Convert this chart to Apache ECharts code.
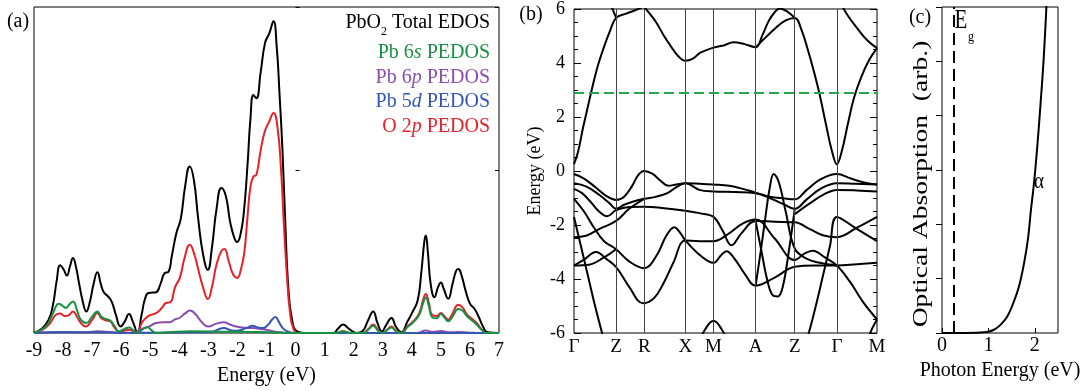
<!DOCTYPE html>
<html><head><meta charset="utf-8">
<script src="https://cdn.jsdelivr.net/npm/echarts@6/dist/echarts.min.js"></script>
<style>html,body{margin:0;padding:0;background:#fff}#c{width:1088px;height:391px}</style>
</head><body><div id="c"></div>
<script>
const F = 'Liberation Serif';

// ---------- Panel (a): density of states ----------
const dosTicks = [-9,-8,-7,-6,-5,-4,-3,-2,-1,0,1,2,3,4,5,6,7];
const totalEDOS = [[-9,0],[-8.75,0.12],[-8.5,0.4],[-8.35,0.85],[-8.22,1.6],[-8.1,2.08],[-7.98,1.95],[-7.87,1.76],[-7.76,2.05],[-7.66,2.3],[-7.55,2.0],[-7.45,1.53],[-7.33,1.0],[-7.2,0.66],[-7.08,0.95],[-6.95,1.5],[-6.82,1.86],[-6.7,1.5],[-6.6,1.25],[-6.45,1.12],[-6.32,0.95],[-6.18,0.55],[-6.02,0.2],[-5.88,0.35],[-5.73,0.58],[-5.6,0.35],[-5.44,0.02],[-5.3,0.55],[-5.18,1.05],[-5.06,1.23],[-4.92,1.24],[-4.8,1.25],[-4.65,1.5],[-4.5,1.84],[-4.38,1.87],[-4.25,2.4],[-4.1,3.07],[-3.95,3.5],[-3.8,4.5],[-3.64,5.11],[-3.5,4.7],[-3.35,3.5],[-3.18,2.4],[-3.02,1.94],[-2.88,2.6],[-2.72,3.8],[-2.55,4.45],[-2.4,4.2],[-2.25,3.4],[-2.1,2.9],[-2.01,2.79],[-1.9,3.0],[-1.78,3.7],[-1.65,5.2],[-1.55,6.6],[-1.45,7.3],[-1.35,7.2],[-1.2,8.0],[-1.05,8.9],[-0.9,9.2],[-0.76,9.56],[-0.65,8.8],[-0.55,7.3],[-0.45,5.6],[-0.35,3.3],[-0.25,1.4],[-0.12,0.4],[0.05,0.05],[0.3,0],[1.3,0],[1.45,0.12],[1.63,0.26],[1.85,0.12],[2.1,0],[2.3,0.05],[2.5,0.4],[2.67,0.66],[2.82,0.3],[2.97,0.05],[3.12,0.25],[3.3,0.46],[3.45,0.2],[3.64,0.02],[3.85,0.35],[4.0,0.6],[4.2,1.0],[4.32,1.8],[4.43,2.8],[4.48,2.99],[4.55,2.5],[4.65,1.5],[4.78,1.1],[4.9,1.4],[5.0,1.55],[5.1,1.35],[5.25,1.05],[5.4,1.5],[5.52,1.9],[5.6,1.96],[5.7,1.8],[5.85,1.3],[6.0,0.9],[6.15,0.75],[6.3,0.5],[6.45,0.2],[6.6,0.02],[7,0]];
const o2p = [[-9,0],[-8.7,0.1],[-8.45,0.3],[-8.25,0.56],[-8.1,0.6],[-7.95,0.52],[-7.8,0.55],[-7.66,0.66],[-7.52,0.5],[-7.38,0.3],[-7.22,0.2],[-7.0,0.4],[-6.82,0.61],[-6.68,0.45],[-6.53,0.39],[-6.38,0.36],[-6.22,0.15],[-6.05,0.04],[-5.85,0.08],[-5.72,0.1],[-5.58,0.05],[-5.44,0.0],[-5.3,0.3],[-5.15,0.46],[-5.0,0.55],[-4.8,0.61],[-4.62,0.75],[-4.46,0.92],[-4.3,0.95],[-4.15,1.4],[-3.98,1.7],[-3.82,2.3],[-3.64,2.71],[-3.48,2.4],[-3.32,1.85],[-3.15,1.3],[-3.02,1.04],[-2.88,1.4],[-2.72,2.1],[-2.55,2.52],[-2.45,2.58],[-2.3,2.2],[-2.15,1.8],[-2.01,1.69],[-1.88,1.95],[-1.76,2.5],[-1.65,3.6],[-1.55,4.5],[-1.45,4.8],[-1.35,4.85],[-1.22,5.5],[-1.07,6.15],[-0.9,6.5],[-0.76,6.75],[-0.62,6.3],[-0.5,5.0],[-0.4,3.3],[-0.3,1.8],[-0.2,0.7],[-0.08,0.15],[0.1,0],[1.4,0],[1.63,0.05],[1.9,0],[2.3,0],[2.5,0.12],[2.67,0.26],[2.85,0.08],[3.0,0],[3.15,0.1],[3.3,0.2],[3.45,0.08],[3.64,0],[3.85,0.2],[4.05,0.36],[4.25,0.6],[4.4,1.05],[4.48,1.2],[4.58,0.95],[4.7,0.55],[4.85,0.52],[5.0,0.61],[5.12,0.52],[5.25,0.41],[5.4,0.6],[5.6,0.87],[5.75,0.78],[5.9,0.56],[6.05,0.45],[6.23,0.31],[6.4,0.12],[6.57,0],[7,0]];
const pb6s = [[-9,0],[-8.75,0.1],[-8.54,0.26],[-8.35,0.6],[-8.14,0.9],[-8.0,0.82],[-7.9,0.77],[-7.78,0.88],[-7.66,0.97],[-7.52,0.7],[-7.39,0.41],[-7.2,0.31],[-7.0,0.5],[-6.82,0.66],[-6.68,0.5],[-6.53,0.43],[-6.38,0.38],[-6.22,0.2],[-6.07,0.05],[-5.9,0.12],[-5.72,0.17],[-5.58,0.08],[-5.44,0.0],[-5.25,0.12],[-5.09,0.18],[-4.95,0.08],[-4.8,0.0],[-4.4,0.02],[-3.6,0.05],[-2.5,0.04],[-1.5,0.03],[-0.8,0.02],[0,0],[1.4,0],[1.63,0.05],[1.9,0],[2.35,0],[2.5,0.1],[2.67,0.22],[2.85,0.06],[3.0,0],[3.15,0.09],[3.3,0.17],[3.45,0.06],[3.64,0],[3.85,0.18],[4.05,0.33],[4.25,0.55],[4.4,0.95],[4.48,1.09],[4.58,0.85],[4.7,0.48],[4.85,0.45],[5.0,0.58],[5.12,0.48],[5.25,0.36],[5.4,0.5],[5.6,0.74],[5.75,0.68],[5.9,0.51],[6.05,0.4],[6.23,0.26],[6.4,0.1],[6.55,0],[7,0]];
const pb6p = [[-9,0],[-8,0.02],[-7.2,0.02],[-6.8,0.05],[-6.3,0.02],[-5.6,0.0],[-5.3,0.12],[-5.0,0.22],[-4.8,0.31],[-4.55,0.33],[-4.34,0.33],[-4.15,0.42],[-4.0,0.46],[-3.8,0.6],[-3.63,0.69],[-3.45,0.58],[-3.3,0.41],[-3.12,0.24],[-3.0,0.2],[-2.75,0.28],[-2.47,0.33],[-2.25,0.26],[-2.05,0.2],[-1.75,0.16],[-1.47,0.15],[-1.2,0.12],[-1.01,0.1],[-0.75,0.05],[-0.5,0.02],[-0.2,0],[4.2,0],[4.48,0.08],[4.7,0.03],[5.0,0.06],[5.3,0.02],[5.6,0.03],[6.0,0.01],[6.5,0],[7,0]];
const pb5d = [[-9,0],[-8.5,0.02],[-8,0.03],[-7.5,0.02],[-6.8,0.02],[-6,0.01],[-5.0,0.01],[-3.5,0.02],[-2.9,0.04],[-2.47,0.15],[-2.2,0.08],[-2.0,0.07],[-1.7,0.15],[-1.47,0.22],[-1.3,0.17],[-1.13,0.15],[-0.95,0.25],[-0.8,0.42],[-0.69,0.49],[-0.58,0.35],[-0.44,0.15],[-0.25,0.04],[-0.05,0],[7,0]];

// ---------- Panel (b): band structure ----------
const kPoints = [0, 42, 70, 111, 139, 181, 220, 262, 302];
const kLabels = ['Γ','Z','R','X','M','A','Z','Γ','M'];
const gapLevel = 2.9;
const cb1 = [[0,0.25],[4,0.7],[9,1.6],[13,2.25],[17,2.9],[23,3.8],[29,4.5],[36,5.2],[42,5.67],[52,5.83],[62,5.97],[70,6.1]];
const cb1b = [[36,6.2],[39,5.95],[42,5.67]];
const cb2 = [[68,6.15],[75,5.85],[82,5.5],[89,5.05],[96,4.65],[104,4.25],[111,4.08],[118,4.15],[126,4.38],[139,4.57],[150,4.66],[159,4.77],[170,4.7],[181,4.58],[188,5.05],[194,5.55],[200,5.88],[205,6.02],[212,5.92],[220,5.67]];
const cb3 = [[181,4.58],[191,4.95],[201,5.3],[211,5.58],[220,5.67],[227,5.2],[233,4.5],[239,3.7],[245,2.8],[251,1.75],[257,0.75],[262,0.25],[267,0.75],[273,1.75],[279,2.7],[286,3.45],[294,4.1],[302,4.55]];
const cb4 = [[266,6.2],[273,5.75],[282,5.3],[292,4.85],[302,4.55]];
const v1 = [[0,-0.11],[10,-0.28],[22,-0.62],[32,-0.92],[42,-1.07],[50,-0.95],[58,-0.55],[64,-0.15],[70,0.0],[78,-0.1],[86,-0.35],[94,-0.55],[102,-0.5],[111,-0.45],[125,-0.47],[139,-0.5],[155,-0.55],[170,-0.68],[181,-0.8],[195,-0.95],[210,-1.02],[220,-1.05],[232,-0.7],[246,-0.3],[262,-0.11],[276,-0.28],[290,-0.43],[302,-0.5]];
const v2 = [[0,-0.45],[12,-0.57],[25,-0.88],[35,-1.18],[42,-1.4],[50,-1.25],[60,-1.12],[70,-1.03],[82,-0.95],[93,-0.82],[102,-0.6],[111,-0.45],[125,-0.7],[139,-0.76],[160,-0.78],[181,-0.82],[198,-1.05],[210,-1.25],[220,-1.4],[232,-1.05],[246,-0.65],[262,-0.45],[280,-0.47],[302,-0.5]];
const v3 = [[0,-0.66],[8,-0.82],[16,-1.12],[25,-1.5],[33,-1.68],[42,-1.45],[55,-1.33],[70,-1.32],[90,-1.38],[111,-1.47],[125,-1.56],[139,-1.7],[148,-2.2],[157,-2.75],[167,-2.3],[181,-1.85],[200,-1.88],[220,-1.9],[235,-2.15],[248,-2.38],[262,-2.45],[282,-2.1],[302,-1.7]];
const v4 = [[0,-1.03],[10,-1.5],[20,-2.1],[30,-2.6],[42,-2.9],[55,-3.35],[70,-3.6],[82,-3.15],[92,-2.4],[100,-2.08],[106,-2.3],[111,-2.57],[125,-3.1],[139,-3.4],[147,-3.1],[152,-2.97],[160,-3.25],[170,-3.8],[181,-4.25],[200,-3.95],[220,-3.55],[240,-3.5],[262,-3.5],[282,-3.45],[302,-3.4]];
const v5 = [[0,-1.7],[7,-2.8],[14,-3.9],[21,-5.0],[28,-6.0],[31,-6.4]];
const v5b = [[230,-6.4],[234,-6.0],[241,-5.0],[248,-3.9],[255,-2.8],[262,-1.7],[280,-2.1],[302,-2.6]];
const v6 = [[0,-2.45],[12,-2.4],[25,-2.15],[42,-1.85],[55,-1.4],[70,-1.03]];
const v7 = [[0,-3.5],[10,-3.28],[22,-3.0],[32,-3.25],[42,-3.56],[55,-4.29],[69,-4.9],[80,-4.7],[90,-4.1],[99,-3.4],[111,-2.57],[125,-2.6],[139,-2.6],[155,-2.3],[168,-1.95],[181,-1.8],[200,-2.5],[220,-3.3],[230,-3.05],[238,-2.95],[250,-3.2],[262,-3.5],[275,-4.1],[288,-4.85],[302,-5.5]];
const v8 = [[0,-3.5],[15,-3.47],[30,-3.2],[42,-2.9]];
const vP = [[181,-4.25],[186,-3.0],[191,-1.65],[195,-0.65],[199,-0.11],[204,-0.4],[211,-1.5],[220,-2.87],[232,-3.25],[245,-3.4],[262,-3.5]];
const vQ = [[181,-1.85],[187,-3.0],[193,-4.1],[198,-4.6],[203,-4.65],[208,-4.3],[214,-3.0],[220,-1.4]];
const v13 = [[220,-1.6],[235,-1.2],[250,-0.85],[262,-0.7],[282,-0.72],[302,-0.76]];
const vLowM = [[124,-6.4],[131,-5.85],[139,-5.55],[147,-5.85],[154,-6.4]];
const vLowM2 = [[291,-6.4],[297,-5.85],[302,-5.5]];
const bands = [cb1, cb1b, cb2, cb3, cb4, v1, v2, v3, v4, v5, v5b, v6, v7, v8, vP, vQ, v13, vLowM, vLowM2];

// ---------- Panel (c): optical absorption ----------
const photonTicks = [0, 1, 2];
const egValue = 0.25;
const alpha = [[0,0],[0.5,0],[0.97,0.02],[1.12,0.06],[1.26,0.15],[1.41,0.31],[1.55,0.58],[1.66,0.86],[1.77,1.29],[1.86,1.78],[1.91,2.21],[1.99,2.82],[2.06,3.5],[2.13,4.29],[2.19,5.03],[2.25,6.0],[2.27,6.4]];

const chart = echarts.init(document.getElementById('c'), null, {renderer: 'canvas'});

const lbl = (size, extra) => Object.assign({color: '#000', fontFamily: F, fontSize: size, fontWeight: 'normal'}, extra || {});
const gridBox = {show: true, borderColor: '#000', borderWidth: 1, backgroundColor: 'transparent'};

function dosSeries(name, data, color) {
  return {name, type: 'line', xAxisIndex: 0, yAxisIndex: 0, data, smooth: 0.5,
    symbol: 'none', showSymbol: false, silent: true, lineStyle: {color, width: 2}, z: 3};
}
function bandSeries(data, i) {
  const s = {type: 'line', xAxisIndex: 1, yAxisIndex: 2, data, smooth: 0.4,
    symbol: 'none', showSymbol: false, silent: true, lineStyle: {color: '#000', width: 2}, z: 3};
  if (i === 0) {
    s.markLine = {silent: true, symbol: ['none', 'none'], label: {show: false}, animation: false,
      data: kPoints.slice(1, -1).map(k => ({xAxis: k, lineStyle: {color: '#444', width: 1, type: 'solid'}}))
        .concat([{yAxis: gapLevel, lineStyle: {color: '#1faa4a', width: 2, type: [10, 5]}}])};
  }
  return s;
}

const series = [
  dosSeries('Total', totalEDOS, '#000'),
  dosSeries('O 2p', o2p, '#e8202a'),
  dosSeries('Pb 6p', pb6p, '#8a4cae'),
  dosSeries('Pb 5d', pb5d, '#3456b4'),
  dosSeries('Pb 6s', pb6s, '#179144'),
  ...bands.map((b, i) => bandSeries(b, i)),
  {type: 'line', xAxisIndex: 2, yAxisIndex: 4, data: alpha, smooth: 0.4, symbol: 'none',
   showSymbol: false, silent: true, lineStyle: {color: '#000', width: 2},
   markLine: {silent: true, symbol: ['none', 'none'], label: {show: false}, animation: false,
     data: [{xAxis: egValue, lineStyle: {color: '#000', width: 2, type: [12, 6]}}]}}
];

const legendRows = [
  {text: '{a|PbO}{s|2}{a| Total EDOS}', color: '#000', top: 8, lh: 30},
  {text: '{a|Pb 6}{i|s}{a| PEDOS}', color: '#179144', top: 41, lh: 24},
  {text: '{a|Pb 6}{i|p}{a| PEDOS}', color: '#8a4cae', top: 66, lh: 24},
  {text: '{a|Pb 5}{i|d}{a| PEDOS}', color: '#3456b4', top: 90, lh: 24},
  {text: '{a|O 2}{i|p}{a| PEDOS}', color: '#e8202a', top: 115, lh: 24}
];
const titles = legendRows.map(r => ({
  text: r.text, right: 598, top: r.top, padding: 0, itemGap: 0,
  textStyle: {fontWeight: 'normal', fontFamily: F, fontSize: 20, color: r.color, rich: {
    a: {fontFamily: F, fontSize: 20, fontWeight: 'normal', color: r.color, lineHeight: r.lh, verticalAlign: 'middle'},
    i: {fontFamily: F, fontSize: 20, fontWeight: 'normal', color: r.color, fontStyle: 'italic', lineHeight: r.lh, verticalAlign: 'middle'},
    s: {fontFamily: F, fontSize: 12, fontWeight: 'normal', color: r.color, lineHeight: 12, verticalAlign: 'bottom'}
  }}
}));

function txt(text, x, y, size, extra) {
  return Object.assign({type: 'text', x, y, silent: true, z: 10,
    style: {text, font: size + 'px "' + F + '"', fill: '#000', textAlign: 'center', align: 'center',
      textVerticalAlign: 'middle', verticalAlign: 'middle'}}, extra || {});
}

const option = {
  animation: false,
  backgroundColor: '#fff',
  textStyle: {fontFamily: F},
  title: titles,
  grid: [
    Object.assign({left: 34, top: 7, width: 465, height: 326}, gridBox),
    Object.assign({left: 574, top: 7, width: 303, height: 326}, gridBox),
    Object.assign({left: 942, top: 7, width: 116, height: 326}, gridBox)
  ],
  xAxis: [
    {type: 'value', gridIndex: 0, min: -9, max: 7, interval: 1,
     axisLine: {show: false}, axisTick: {show: false}, splitLine: {show: false},
     axisLabel: lbl(20, {margin: 8, customValues: dosTicks}),
     name: 'Energy (eV)', nameLocation: 'middle', nameGap: 32, nameTextStyle: lbl(20)},
    {type: 'value', gridIndex: 1, min: 0, max: 302,
     axisLine: {show: false}, axisTick: {show: false}, splitLine: {show: false},
     axisLabel: lbl(19, {margin: 5, customValues: kPoints,
       formatter: v => kLabels[kPoints.indexOf(v)] || ''})},
    {type: 'value', gridIndex: 2, min: 0, max: 2.5,
     axisLine: {show: false}, splitLine: {show: false},
     axisTick: {show: true, inside: true, length: 5, lineStyle: {color: '#000'}, customValues: photonTicks},
     axisLabel: lbl(20, {margin: 3, customValues: photonTicks}),
     name: 'Photon Energy (eV)', nameLocation: 'middle', nameGap: 28, nameTextStyle: lbl(20)}
  ],
  yAxis: [
    {type: 'value', gridIndex: 0, min: 0, max: 10, interval: 5, axisLine: {show: false},
     axisTick: {show: true, inside: true, length: 4, lineStyle: {color: '#000'}}, axisLabel: {show: false}, splitLine: {show: false}},
    {type: 'value', gridIndex: 0, min: 0, max: 10, interval: 5, position: 'right', axisLine: {show: false},
     axisTick: {show: true, inside: true, length: 4, lineStyle: {color: '#000'}}, axisLabel: {show: false}, splitLine: {show: false}},
    {type: 'value', gridIndex: 1, min: -6, max: 6, interval: 2, axisLine: {show: false},
     axisTick: {show: true, inside: true, length: 7, lineStyle: {color: '#000'}},
     minorTick: {show: true, splitNumber: 4, length: 4, lineStyle: {color: '#000'}},
     splitLine: {show: false}, minorSplitLine: {show: false},
     axisLabel: lbl(18, {margin: 9}),
     name: 'Energy (eV)', nameLocation: 'middle', nameGap: 30, nameTextStyle: lbl(18)},
    {type: 'value', gridIndex: 1, min: -6, max: 6, interval: 2, position: 'right', axisLine: {show: false},
     axisTick: {show: true, inside: true, length: 7, lineStyle: {color: '#000'}},
     minorTick: {show: true, splitNumber: 4, length: 4, lineStyle: {color: '#000'}},
     splitLine: {show: false}, axisLabel: {show: false}},
    {type: 'value', gridIndex: 2, min: 0, max: 6, interval: 1, position: 'right', axisLine: {show: false},
     axisTick: {show: true, inside: true, length: 6, lineStyle: {color: '#000'}},
     axisLabel: {show: false}, splitLine: {show: false}}
  ],
  graphic: [
    txt('(a)', 18, 22, 20),
    txt('(b)', 531, 15, 20),
    txt('(c)', 920, 18, 20),
    txt('E', 961, 21, 21, {scaleY: 1.25}),
    txt('g', 971, 37, 12, {scaleY: 1.25}),
    txt('α', 1039, 182, 19, {scaleY: 1.2}),
    txt('Optical Absorption  (arb.)', 922, 184, 20, {rotation: Math.PI / 2, scaleX: 1.38})
  ],
  series
};
chart.setOption(option);
</script></body></html>
